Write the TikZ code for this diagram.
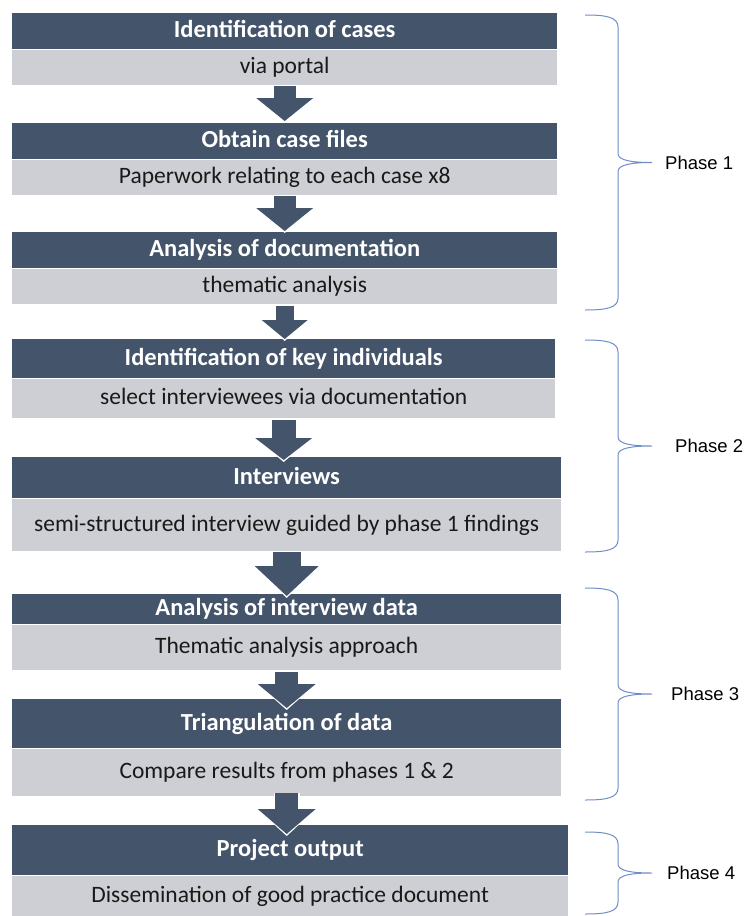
\documentclass[tikz,border=0pt]{standalone}
\usepackage{fontspec}
\setmainfont{Carlito}
\newfontfamily\phasefont{Liberation Sans}
\usetikzlibrary{positioning,arrows.meta}

\definecolor{slate}{HTML}{44546A}
\definecolor{pale}{HTML}{CDCFD4}
\definecolor{bracecol}{HTML}{6F8EC8}

\tikzset{
  head/.style={rectangle,fill=slate,text=white,inner sep=0pt,anchor=north west,
    text height=17pt,text depth=4pt,font=\fontsize{24.5}{28}\selectfont\bfseries},
  body/.style={rectangle,fill=pale,text=black!90,inner sep=0pt,
    text height=17pt,text depth=4pt,font=\fontsize{23.5}{27}\selectfont},
  flow/.style n args={3}{draw=slate,line width=#1pt,
    -{Triangle[width=#2pt,length=#3pt,line width=0pt]}},
  halo/.style n args={3}{draw=white,line width=#1pt,
    -{Triangle[width=#2pt,length=#3pt,line width=0pt]}},
  brace/.style={draw=bracecol,line width=1pt},
  phase/.style={anchor=west,inner sep=0pt,font=\phasefont\fontsize{18.5}{22}\selectfont}
}

\begin{document}
\begin{tikzpicture}[x=1pt,y=-1pt]
\useasboundingbox (0,0) rectangle (745,916);

% phase 1
\node[head,minimum width=545pt,minimum height=36pt] (h1) at (12,13) {Identification of cases};
\node[body,minimum width=545pt,minimum height=35pt,below=0pt of h1] (b1) {via portal};
\node[head,minimum width=545pt,minimum height=36pt] (h2) at (12,123) {Obtain case files};
\node[body,minimum width=545pt,minimum height=35pt,below=0pt of h2] (b2) {Paperwork relating to each case x8};
\node[head,minimum width=545pt,minimum height=36pt] (h3) at (12,232) {Analysis of documentation};
\node[body,minimum width=545pt,minimum height=35pt,below=0pt of h3] (b3) {thematic analysis};

% phase 2
\node[head,minimum width=543pt,minimum height=39pt] (h4) at (12,339) {Identification of key individuals};
\node[body,minimum width=543pt,minimum height=39pt,below=0pt of h4] (b4) {select interviewees via documentation};
\node[head,minimum width=549pt,minimum height=41pt] (h5) at (12,457) {Interviews};
\node[body,minimum width=549pt,minimum height=52pt,below=0pt of h5] (b5) {semi-structured interview guided by phase 1 findings};

% phase 3
\node[head,minimum width=549pt,minimum height=30pt] (h6) at (12,594) {Analysis of interview data};
\node[body,minimum width=549pt,minimum height=45pt,below=0pt of h6] (b6) {Thematic analysis approach};
\node[head,minimum width=549pt,minimum height=49pt] (h7) at (12,699) {Triangulation of data};
\node[body,minimum width=549pt,minimum height=47pt,below=0pt of h7] (b7) {Compare results from phases 1 \& 2};

% phase 4
\node[head,minimum width=556pt,minimum height=50pt] (h8) at (12,825) {Project output};
\node[body,minimum width=556pt,minimum height=41pt,below=0pt of h8] (b8) {Dissemination of good practice document};

% block arrows
\foreach \src/\dst/\wd/\hwd/\hln/\gapa/\gapb in {
    b1/h2/22/57/23/1/2, b2/h3/22/57/23/1/1, b3/h4/18/46/19/2/0,
    b4/h5/24/57/22/2/-3, b5/h6/28/64/30/1/-2, b6/h7/23/58/24/2/-9,
    b7/h8/23/58/25/-3/-9} {
  \pgfmathsetmacro\halowd{\wd+3}
  \pgfmathsetmacro\halohw{\hwd+5}
  \pgfmathsetmacro\halohl{\hln+4}
  \pgfmathsetmacro\halob{\gapb-2}
  \draw[halo={\halowd}{\halohw}{\halohl},shorten <=\gapa pt,shorten >=\halob pt]
    (\src.south) -- (\src.south |- \dst.north);
  \draw[flow={\wd}{\hwd}{\hln},shorten <=\gapa pt,shorten >=\gapb pt]
    (\src.south) -- (\src.south |- \dst.north);
}

% braces and phase labels
\foreach \upy/\lowy/\lx/\k in {15/310/665/1, 340/552/675/2, 588/800/671/3, 832/914/667/4} {
  \pgfmathsetmacro\tipy{(\upy+\lowy)/2}
  \draw[brace] (585,\upy) .. controls (606,\upy) and (618,\upy+2) .. (618,\upy+12)
    -- (618,\tipy-9) .. controls (618,\tipy-2) and (632,\tipy) .. (652,\tipy)
    .. controls (632,\tipy) and (618,\tipy+2) .. (618,\tipy+9)
    -- (618,\lowy-12) .. controls (618,\lowy-2) and (606,\lowy) .. (585,\lowy);
  \node[phase] (ph\k) at (\lx,\tipy) {Phase \k};
}
\end{tikzpicture}
\end{document}
